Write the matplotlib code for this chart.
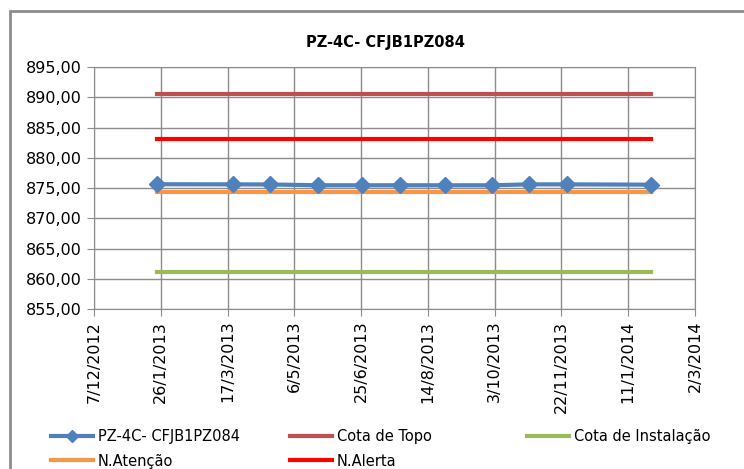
import datetime as dt
import matplotlib
matplotlib.use('Agg')
import matplotlib.pyplot as plt
import matplotlib.dates as mdates
import matplotlib.patches as patches
from matplotlib.lines import Line2D
from matplotlib.ticker import FuncFormatter, MultipleLocator

# dados
datas = ['2013-01-23', '2013-03-21', '2013-04-18', '2013-05-24', '2013-06-26',
         '2013-07-24', '2013-08-27', '2013-10-01', '2013-10-29', '2013-11-26',
         '2014-01-28']
leituras = [875.62, 875.60, 875.58, 875.45, 875.45, 875.45, 875.45, 875.45,
            875.60, 875.60, 875.55]
cota_topo = 890.6
cota_instalacao = 861.1
n_atencao = 874.3
n_alerta = 883.1
titulo = 'PZ-4C- CFJB1PZ084'
nomes = ['PZ-4C- CFJB1PZ084', 'Cota de Topo', 'Cota de Instalação',
         'N.Atenção', 'N.Alerta']

cores = {'pz': '#4F81BD', 'topo': '#C0504D', 'inst': '#9BBB59',
         'aten': '#F79646', 'alerta': '#FF0000'}

plt.rcParams['font.family'] = ['DejaVu Sans']

x = [mdates.date2num(dt.datetime.strptime(d, '%Y-%m-%d')) for d in datas]

fig = plt.figure(figsize=(7.44, 4.69), dpi=100)
ax = fig.add_axes([94 / 744, 1 - 309 / 469, 601 / 744, 242 / 469])

# moldura do gráfico
fig.patches.append(patches.Rectangle((10 / 744, -0.1), 1.0, 1 - 11 / 469 + 0.1,
                                     transform=fig.transFigure, fill=False,
                                     edgecolor='#8C8C8C', linewidth=2))

ax.plot(x, leituras, color=cores['pz'], lw=3, marker='D', ms=8, zorder=5)
ax.plot([x[0], x[-1]], [cota_topo] * 2, color=cores['topo'], lw=3)
ax.plot([x[0], x[-1]], [cota_instalacao] * 2, color=cores['inst'], lw=3)
ax.plot([x[0], x[-1]], [n_atencao] * 2, color=cores['aten'], lw=3)
ax.plot([x[0], x[-1]], [n_alerta] * 2, color=cores['alerta'], lw=3)

inicio = mdates.date2num(dt.datetime(2012, 12, 7))
ticks = [inicio + 50 * i for i in range(10)]
ax.set_xlim(ticks[0], ticks[-1])
ax.set_xticks(ticks)
ax.xaxis.set_major_formatter(FuncFormatter(
    lambda v, p: '{d.day}/{d.month}/{d.year}'.format(d=mdates.num2date(v))))
ax.set_ylim(855, 895)
ax.yaxis.set_major_locator(MultipleLocator(5))
ax.yaxis.set_major_formatter(FuncFormatter(lambda v, p: f'{v:.2f}'.replace('.', ',')))

ax.grid(True, color='#8C8C8C', lw=1)
ax.set_axisbelow(True)
for s in ax.spines.values():
    s.set_color('#8C8C8C')
ax.tick_params(axis='x', rotation=90, labelsize=11.5, length=5, color='#8C8C8C')
ax.tick_params(axis='y', labelsize=11.5, length=5, color='#8C8C8C')

fig.text(385 / 744, 1 - 43 / 469, titulo, ha='center', va='center',
         fontsize=10.5, fontweight='bold')

# legenda
handles = [
    Line2D([], [], color=cores['pz'], lw=3, marker='D', ms=6),
    Line2D([], [], color=cores['topo'], lw=3),
    Line2D([], [], color=cores['inst'], lw=3),
    Line2D([], [], color=cores['aten'], lw=3),
    Line2D([], [], color=cores['alerta'], lw=3),
]
posicoes = [(51, 437), (290, 437), (527, 437), (51, 461), (290, 461)]
for h, nome, (px, py) in zip(handles, nomes, posicoes):
    fig.legend(handles=[h], labels=[nome], loc='center left',
               bbox_to_anchor=(px / 744, 1 - py / 469), frameon=False,
               fontsize=10.5, handlelength=2.9, handletextpad=0.3,
               borderpad=0, borderaxespad=0)

fig.savefig('out.png', dpi=100)
